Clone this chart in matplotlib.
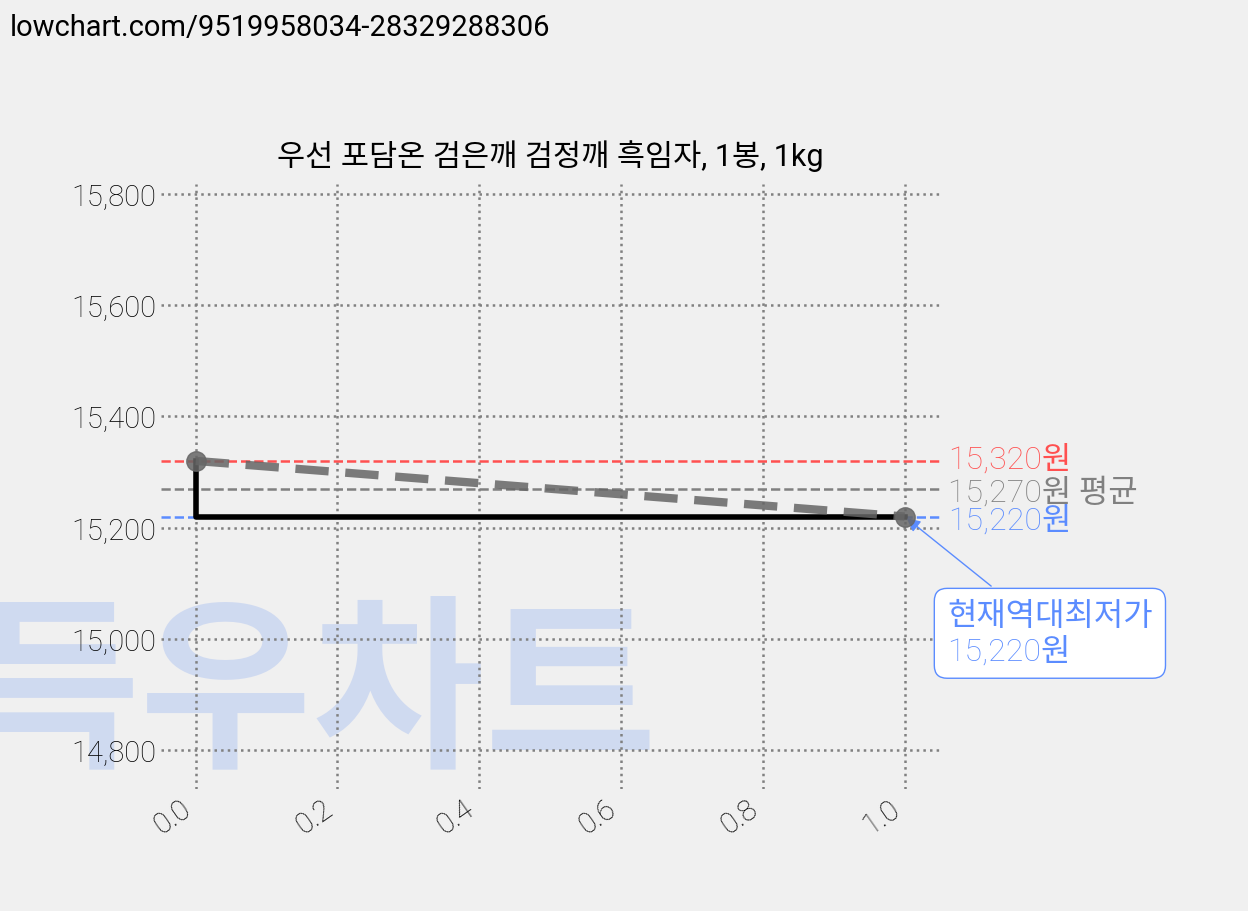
import matplotlib
matplotlib.use("Agg")
import matplotlib.pyplot as plt

plt.rcParams['font.family'] = ['Roboto', 'Noto Sans CJK KR', 'DejaVu Sans']

x = [0.0, 1.0]
prices = [15320, 15220]
max_p, avg_p, min_p = 15320, 15270, 15220
title = "우선 포담온 검은깨 검정깨 흑임자, 1봉, 1kg"

fig = plt.figure(figsize=(12.48, 9.12), dpi=100, facecolor='#f0f0f0')
ax = fig.add_axes([161/1248, 1-790/912, (940-161)/1248, (790-185)/912])
ax.set_facecolor('none')
for s in ax.spines.values():
    s.set_visible(False)

fig.text(0.25, 0.235, "득우차트", fontsize=135, fontweight='black', color='#c5d3f0', alpha=0.75,
         ha='center', va='center', family=['Noto Sans CJK KR'], zorder=-1)

ax.plot(x, prices, drawstyle='steps-pre', color='black', lw=4, zorder=3)
ax.plot(x, prices, ls='--', color='#666666', lw=6, dashes=(4, 2), marker='o', ms=14, alpha=0.85, zorder=4)
ax.axhline(max_p, color='#ff5050', ls='--', lw=1.8)
ax.axhline(avg_p, color='gray', ls='--', lw=1.8)
ax.axhline(min_p, color='#5b8cff', ls='--', lw=1.8)

kw = dict(fontsize=23, va='center', clip_on=False, fontweight='light', transform=ax.get_yaxis_transform())
ax.text(1.01, max_p + 5, f"{max_p:,}원", color='#ff5050', **kw)
ax.text(1.01, avg_p - 5, f"{avg_p:,}원 평균", color='gray', **kw)
ax.text(1.01, min_p - 5, f"{min_p:,}원", color='#5b8cff', **kw)

ax.annotate(f"현재역대최저가\n{min_p:,}원", xy=(1.0, min_p), xytext=(1.06, 15010),
            fontsize=23, color='#5b8cff', va='center', fontweight='light',
            bbox=dict(boxstyle='round,pad=0.4', fc='white', ec='#5b8cff'),
            arrowprops=dict(arrowstyle='-|>', color='#5b8cff', mutation_scale=20))

ax.set_xlim(-0.049, 1.05)
ax.set_ylim(14730, 15818)
ax.set_yticks([14800, 15000, 15200, 15400, 15600, 15800])
ax.set_yticklabels([f"{v:,}" for v in ax.get_yticks()])
ax.set_xticks([0.0, 0.2, 0.4, 0.6, 0.8, 1.0])
ax.tick_params(labelsize=21, length=0)
for lab in ax.get_xticklabels() + ax.get_yticklabels():
    lab.set_fontweight('light')
plt.setp(ax.get_xticklabels(), rotation=35, ha='right')
ax.grid(True, ls=':', color='gray', lw=1.8)
ax.set_title(title, fontsize=22, pad=14)

fig.text(0.008, 0.985, "lowchart.com/9519958034-28329288306", fontsize=21, va='top')
fig.savefig("out.png", dpi=100, facecolor=fig.get_facecolor())
